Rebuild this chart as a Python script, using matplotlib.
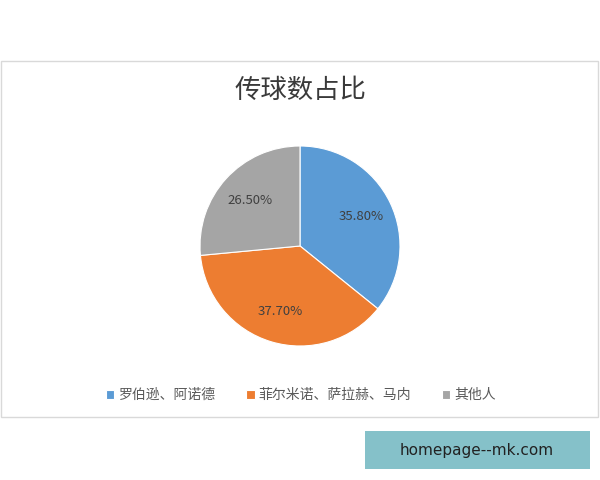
import matplotlib
matplotlib.use("Agg")
import matplotlib.pyplot as plt
from matplotlib.patches import Rectangle

plt.rcParams['font.family'] = ['Noto Sans CJK SC', 'DejaVu Sans']

title = "传球数占比"
categories = ["罗伯逊、阿诺德", "菲尔米诺、萨拉赫、马内", "其他人"]
values = [35.8, 37.7, 26.5]
colors = ["#5B9BD5", "#ED7D31", "#A5A5A5"]
watermark = "homepage--mk.com"

W, H = 600, 480
fig = plt.figure(figsize=(6, 4.8), dpi=100)
fig.patch.set_facecolor("white")

def fx(x):
    return x / W

def fy(y):
    return 1 - y / H

# chart frame
fig.patches.append(Rectangle((fx(1), fy(417)), fx(597), (417 - 61) / H,
                             transform=fig.transFigure, facecolor="white",
                             edgecolor="#D9D9D9", linewidth=1.0, zorder=-5))

# pie axes: center (300,246), radius 100
r = 100
ax = fig.add_axes([fx(300 - r), fy(246 + r), 2 * r / W, 2 * r / H])
ax.set_zorder(2)
ax.patch.set_visible(False)
wedges, texts, autotexts = ax.pie(
    values, colors=colors, startangle=90, counterclock=False,
    autopct='%.2f%%', pctdistance=0.68,
    wedgeprops=dict(edgecolor="white", linewidth=0.8),
    textprops=dict(color="#404040", fontsize=9.5))
ax.set_aspect("equal")
ax.set_xlim(-1, 1)
ax.set_ylim(-1, 1)

# title
fig.text(fx(300), fy(90), title, ha="center", va="center",
         fontsize=19, fontweight="medium", color="#3A3A3A")

# legend
leg = fig.legend(wedges, categories, loc="center", bbox_to_anchor=(fx(301), fy(395)),
                 ncol=3, frameon=False, fontsize=10, handlelength=0.6,
                 handleheight=0.6, handletextpad=0.3, columnspacing=2.2,
                 labelcolor="#595959")

# watermark box
fig.patches.append(Rectangle((fx(365), fy(469)), fx(225), (469 - 431) / H,
                             transform=fig.transFigure, facecolor="#85C1C9",
                             edgecolor="none", zorder=1))
fig.text(fx(477), fy(450), watermark, ha="center", va="center",
         fontsize=11, color="#222222", family=["DejaVu Sans"])

fig.savefig("out.png", dpi=100, facecolor="white")
